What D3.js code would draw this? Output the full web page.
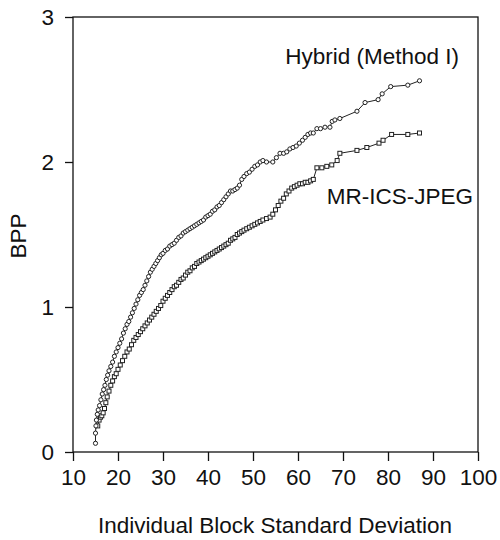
<!DOCTYPE html>
<html>
<head>
<meta charset="utf-8">
<script src="https://cdn.jsdelivr.net/npm/d3@7/dist/d3.min.js"></script>
<style>
  html, body { margin: 0; padding: 0; background: #fff; }
  svg { display: block; }
  text { font-family: "Liberation Sans", Arial, sans-serif; fill: #111; }
</style>
</head>
<body>
<svg id="chart" width="500" height="540"></svg>
<script>
// Bits per pixel versus block standard deviation, two coders
const hybridSD = [15.0,15.0,15.1,15.2,15.4,15.6,15.9,16.2,16.5,16.8,17.1,17.4,17.7,18.0,18.4,18.8,19.2,19.6,20.0,20.4,20.8,21.2,21.6,22.0,22.4,22.8,23.2,23.6,24.0,24.4,24.8,25.2,25.6,26.0,26.4,26.8,27.2,27.6,28.0,28.4,28.8,29.2,29.6,30.0,30.5,31.0,31.5,32.0,32.5,33.0,33.5,34.0,34.5,35.0,35.5,36.0,36.5,37.0,37.5,38.0,38.5,39.0,39.5,40.0,40.5,41.0,41.5,42.0,42.5,43.0,43.5,44.0,44.5,45.0,45.5,46.0,46.5,47.0,47.5,48.0,48.6,49.2,49.8,50.4,51.0,51.6,52.2,53.0,54.4,55.2,56.0,56.8,57.5,58.2,58.9,59.6,60.3,61.0,61.6,62.2,62.8,63.4,64.2,65.0,66.0,67.1,67.6,68.2,69.3,73.1,74.9,77.8,78.7,80.6,84.4,87.0];
const hybridBPP = [0.06,0.13,0.18,0.22,0.26,0.29,0.32,0.36,0.40,0.43,0.46,0.50,0.53,0.56,0.59,0.62,0.66,0.69,0.72,0.75,0.78,0.82,0.85,0.88,0.90,0.93,0.96,0.99,1.02,1.05,1.08,1.10,1.12,1.15,1.18,1.21,1.24,1.26,1.28,1.30,1.32,1.34,1.36,1.37,1.39,1.40,1.42,1.43,1.44,1.46,1.48,1.49,1.51,1.52,1.53,1.54,1.55,1.56,1.57,1.58,1.59,1.60,1.62,1.63,1.64,1.66,1.67,1.69,1.70,1.72,1.74,1.76,1.78,1.80,1.80,1.81,1.82,1.84,1.88,1.90,1.92,1.93,1.95,1.97,1.98,2.00,2.01,2.00,2.00,2.03,2.06,2.06,2.07,2.09,2.10,2.11,2.13,2.15,2.17,2.19,2.20,2.20,2.23,2.23,2.24,2.24,2.28,2.29,2.30,2.35,2.41,2.43,2.47,2.52,2.53,2.56];

const mrSD = [15.5,15.8,16.1,16.4,16.7,17.0,17.3,17.6,18.0,18.4,18.8,19.2,19.6,20.0,20.5,21.0,21.5,22.0,22.5,23.0,23.5,24.0,24.5,25.0,25.5,26.0,26.5,27.0,27.5,28.0,28.5,29.0,29.5,30.0,30.5,31.0,31.5,32.0,32.5,33.0,33.5,34.0,34.5,35.0,35.5,36.0,36.5,37.0,37.5,38.0,38.5,39.0,39.5,40.0,40.5,41.0,41.5,42.0,42.5,43.0,43.5,44.0,44.5,45.0,45.5,46.0,46.5,47.0,47.5,48.0,48.6,49.2,49.8,50.4,51.0,51.6,52.2,53.0,53.8,54.4,55.0,55.6,56.2,56.8,57.4,58.0,58.6,59.2,59.8,60.4,61.0,61.6,62.2,62.8,63.4,64.2,65.3,66.4,67.5,68.7,69.3,73.1,75.3,78.0,78.9,80.8,84.4,87.0];
const mrBPP = [0.18,0.22,0.24,0.25,0.27,0.30,0.34,0.38,0.42,0.46,0.49,0.52,0.54,0.57,0.60,0.63,0.66,0.69,0.71,0.74,0.77,0.79,0.81,0.83,0.85,0.87,0.89,0.91,0.93,0.95,0.97,0.99,1.01,1.04,1.06,1.08,1.10,1.12,1.14,1.15,1.17,1.19,1.20,1.22,1.24,1.25,1.27,1.28,1.30,1.31,1.32,1.33,1.34,1.35,1.36,1.37,1.38,1.39,1.40,1.41,1.42,1.43,1.44,1.46,1.47,1.48,1.50,1.51,1.52,1.53,1.54,1.55,1.56,1.57,1.58,1.59,1.60,1.61,1.62,1.64,1.67,1.70,1.73,1.75,1.78,1.80,1.82,1.83,1.84,1.85,1.85,1.86,1.86,1.87,1.88,1.96,1.96,1.97,1.98,2.01,2.06,2.08,2.10,2.13,2.15,2.19,2.19,2.20];

const xTicks = [10, 20, 30, 40, 50, 60, 70, 80, 90, 100];
const yTicks = [0, 1, 2, 3];
const seriesNames = ["Hybrid (Method I)", "MR-ICS-JPEG"];

const svg = d3.select("#chart");
const plotL = 73, plotR = 478, plotT = 17, plotB = 452;
const fontFamily = "'Liberation Sans', Arial, sans-serif";

const x = d3.scaleLinear().domain([10, 100]).range([plotL, plotR]);
const y = d3.scaleLinear().domain([0, 3]).range([plotB, plotT]);

// plot frame
svg.append("rect")
  .attr("x", plotL).attr("y", plotT)
  .attr("width", plotR - plotL).attr("height", plotB - plotT)
  .attr("fill", "none").attr("stroke", "#111").attr("stroke-width", 1.3);

// x axis
const gx = svg.append("g").attr("transform", `translate(0,${plotB})`)
  .call(d3.axisBottom(x).tickValues(xTicks).tickFormat(d3.format("d"))
    .tickSize(9).tickSizeOuter(0).tickPadding(8));
gx.select(".domain").remove();
gx.selectAll(".tick line").attr("stroke", "#111").attr("stroke-width", 1.3);
gx.selectAll(".tick text").attr("font-size", 22.5).attr("fill", "#111")
  .attr("font-family", fontFamily);

// y axis
const gy = svg.append("g").attr("transform", `translate(${plotL},0)`)
  .call(d3.axisLeft(y).tickValues(yTicks).tickFormat(d3.format("d"))
    .tickSize(8).tickSizeOuter(0).tickPadding(11));
gy.select(".domain").remove();
gy.selectAll(".tick line").attr("stroke", "#111").attr("stroke-width", 1.3);
gy.selectAll(".tick text").attr("font-size", 22.5).attr("fill", "#111")
  .attr("font-family", fontFamily);

// axis titles
svg.append("text")
  .attr("x", 275).attr("y", 533)
  .attr("text-anchor", "middle").attr("font-size", 22.5)
  .text("Individual Block Standard Deviation");
svg.append("text")
  .attr("transform", `translate(26,236) rotate(-90)`)
  .attr("text-anchor", "middle").attr("font-size", 22.5)
  .text("BPP");

const line = d3.line().x(d => x(d[0])).y(d => y(d[1]));

const hybrid = hybridSD.map((v, i) => [v, hybridBPP[i]]);
const mr = mrSD.map((v, i) => [v, mrBPP[i]]);

function drawSeries(data, shape) {
  const g = svg.append("g");
  g.append("path").datum(data)
    .attr("d", line).attr("fill", "none")
    .attr("stroke", "#222").attr("stroke-width", 1);
  if (shape === "circle") {
    g.selectAll("circle").data(data).join("circle")
      .attr("cx", d => x(d[0])).attr("cy", d => y(d[1])).attr("r", 2.1)
      .attr("fill", "#fff").attr("stroke", "#222").attr("stroke-width", 1);
  } else {
    g.selectAll("rect").data(data).join("rect")
      .attr("x", d => x(d[0]) - 2).attr("y", d => y(d[1]) - 2)
      .attr("width", 4).attr("height", 4)
      .attr("fill", "#fff").attr("stroke", "#222").attr("stroke-width", 1);
  }
}
drawSeries(mr, "square");
drawSeries(hybrid, "circle");

// series labels
svg.append("text").attr("x", 459).attr("y", 64)
  .attr("text-anchor", "end").attr("font-size", 22.5).text(seriesNames[0]);
svg.append("text").attr("x", 473).attr("y", 204)
  .attr("text-anchor", "end").attr("font-size", 22.5).text(seriesNames[1]);
</script>
</body>
</html>
